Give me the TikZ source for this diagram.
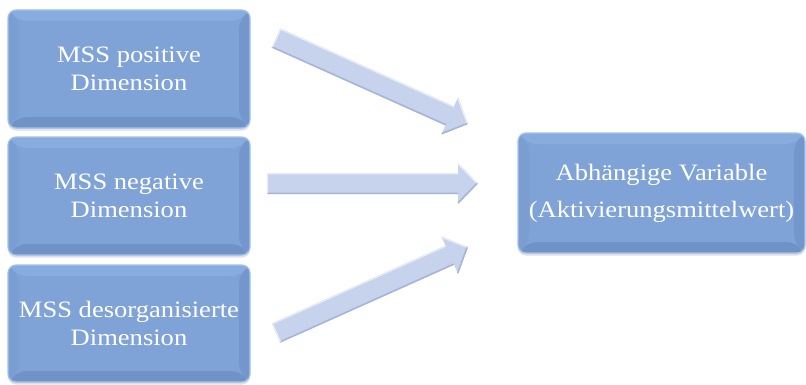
\documentclass[tikz,border=0pt]{standalone}
\usepackage{fontspec}
\setmainfont{Liberation Serif}
\newfontfamily\boxfont[FakeStretch=1.13]{Liberation Serif}
\usetikzlibrary{shadows}

\definecolor{boxfill}{HTML}{7FA3D6}
\definecolor{boxtop}{HTML}{88ACDD}
\definecolor{boxleft}{HTML}{7A9ED2}
\definecolor{boxright}{HTML}{7397CC}
\definecolor{boxbottom}{HTML}{6F93C7}
\definecolor{boxrim}{HTML}{A6C2EC}
\definecolor{arrowfill}{HTML}{C7D2EC}
\definecolor{arrowdark}{HTML}{A7B5D8}
\definecolor{arrowlight}{HTML}{E6ECF8}

\tikzset{
  bevelbox/.style={
    draw=boxrim, line width=1.2pt, fill=boxfill, rounded corners=8pt,
    minimum width=242pt, minimum height=118pt, inner sep=0pt,
    align=center, text=white,
    font=\boxfont\fontsize{23.5pt}{27.5pt}\selectfont,
    drop shadow={shadow xshift=0pt, shadow yshift=-2.5pt, fill=black!35, opacity=0.35},
    path picture={
      \coordinate (nw) at (path picture bounding box.north west);
      \coordinate (ne) at (path picture bounding box.north east);
      \coordinate (sw) at (path picture bounding box.south west);
      \coordinate (se) at (path picture bounding box.south east);
      \fill[boxtop] (nw) -- (ne) -- ([shift={(-11pt,-11pt)}]ne) -- ([shift={(11pt,-11pt)}]nw) -- cycle;
      \fill[boxbottom] (sw) -- (se) -- ([shift={(-11pt,11pt)}]se) -- ([shift={(11pt,11pt)}]sw) -- cycle;
      \fill[boxleft] (nw) -- (sw) -- ([shift={(11pt,11pt)}]sw) -- ([shift={(11pt,-11pt)}]nw) -- cycle;
      \fill[boxright] (ne) -- (se) -- ([shift={(-11pt,11pt)}]se) -- ([shift={(-11pt,-11pt)}]ne) -- cycle;
    }
  },
  widelines/.style={font=\boxfont\fontsize{23.5pt}{37pt}\selectfont},
  arrowbody/.style={fill=arrowfill},
  arrowshade/.style={draw=arrowdark, line width=1.6pt, line join=round},
  arrowshine/.style={draw=arrowlight, line width=1.2pt, line join=round}
}

% broad block arrow from one named coordinate to another
\newcommand\fatarrow[2]{%
  \pgfpointdiff{\pgfpointanchor{#1}{center}}{\pgfpointanchor{#2}{center}}%
  \pgfgetlastxy{\fadx}{\fady}%
  \pgfmathsetmacro\faang{atan2(\fady,\fadx)}%
  \pgfmathsetmacro\falen{veclen(\fadx,\fady)}%
  \pgfmathsetmacro\faneck{\falen-20}%
  \begin{scope}[shift={(#1)}, rotate=\faang]
    \fill[arrowbody] (0,-10.5) -- (\faneck,-10.5) -- (\faneck,-20.5) -- (\falen,0)
      -- (\faneck,20.5) -- (\faneck,10.5) -- (0,10.5) -- cycle;
    \draw[arrowshade] (0,-9.8) -- (\faneck,-9.8) (\faneck,-19.5) -- (\falen-1,0);
    \draw[arrowshine] (0.6,-9.8) -- (0.6,9.8) -- (\faneck,9.8) (\faneck,19.5) -- (\falen-1.5,0.6);
  \end{scope}}

\begin{document}
\begin{tikzpicture}[x=1pt, y=1pt]
  \useasboundingbox (0,0) rectangle (806,384);

  % predictor boxes
  \node[bevelbox] (pos) at (129,315) {MSS positive\\Dimension};
  \node[bevelbox] (neg) at (129,188) {MSS negative\\Dimension};
  \node[bevelbox, minimum height=117pt] (des) at (129,60.5) {MSS desorganisierte\\Dimension};

  % outcome box
  \node[bevelbox, widelines, minimum width=287pt, minimum height=120pt] (av) at (661.5,191)
    {Abhängige Variable\\(Aktivierungsmittelwert)};

  % arrow ends
  \coordinate (posT) at (276,346);
  \coordinate (posH) at (468,260);
  \coordinate (negT) at (267,200.5);
  \coordinate (negH) at (478,200.5);
  \coordinate (desT) at (276,51);
  \coordinate (desH) at (468,137);

  \fatarrow{posT}{posH}
  \fatarrow{negT}{negH}
  \fatarrow{desT}{desH}
\end{tikzpicture}
\end{document}
